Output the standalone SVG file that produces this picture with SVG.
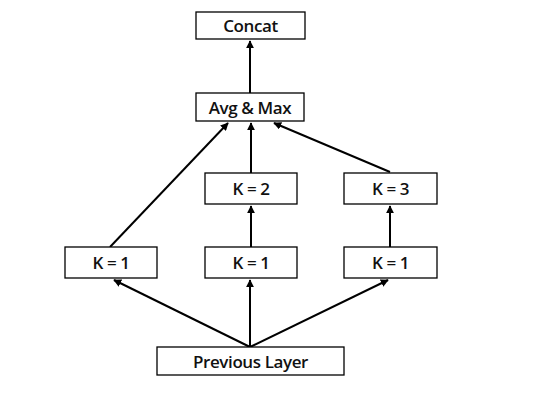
<svg xmlns="http://www.w3.org/2000/svg" width="544" height="402" viewBox="0 0 544 402">
<style>
.box{fill:#fff;stroke:#000;stroke-width:1.3}
.lbl{font-family:"Open Sans","Liberation Sans",Arial,sans-serif;font-size:17px;font-weight:600;fill:#111;text-anchor:middle;dominant-baseline:central;letter-spacing:-0.4px}
.edge{stroke:#000;stroke-width:2;fill:none;marker-end:url(#ah)}
</style>
<defs>
<marker id="ah" viewBox="0 0 10 10" refX="9" refY="5" markerWidth="4" markerHeight="4" orient="auto" markerUnits="strokeWidth">
<path d="M0,0 L10,5 L0,10 z" fill="#000"/>
</marker>
</defs>
<rect width="544" height="402" fill="#fff"/>
<g id="connectors">
<line class="edge" x1="250" y1="93" x2="250" y2="41"/>
<line class="edge" x1="110" y1="247" x2="228" y2="123"/>
<line class="edge" x1="251" y1="173" x2="251" y2="123"/>
<line class="edge" x1="390" y1="172" x2="274" y2="123"/>
<line class="edge" x1="390" y1="247" x2="390" y2="206"/>
<line class="edge" x1="251" y1="247" x2="251" y2="206"/>
<line class="edge" x1="250" y1="347" x2="114" y2="280"/>
<line class="edge" x1="250" y1="347" x2="250" y2="280"/>
<line class="edge" x1="250" y1="347" x2="388" y2="280"/>
</g>
<g id="concat"><rect class="box" x="196" y="12" width="109" height="27"/><text class="lbl" x="250.5" y="25.5">Concat</text></g>
<g id="avgmax"><rect class="box" x="196" y="93" width="108" height="28"/><text class="lbl" x="250" y="107">Avg &amp; Max</text></g>
<g id="k2"><rect class="box" x="205" y="173" width="92" height="31"/><text class="lbl" x="251" y="188.5">K = 2</text></g>
<g id="k3"><rect class="box" x="344" y="173" width="93" height="31"/><text class="lbl" x="390.5" y="188.5">K = 3</text></g>
<g id="k1a"><rect class="box" x="65" y="247" width="92" height="31"/><text class="lbl" x="111" y="262.5">K = 1</text></g>
<g id="k1b"><rect class="box" x="205" y="247" width="92" height="31"/><text class="lbl" x="251" y="262.5">K = 1</text></g>
<g id="k1c"><rect class="box" x="344" y="247" width="93" height="31"/><text class="lbl" x="390.5" y="262.5">K = 1</text></g>
<g id="prev"><rect class="box" x="157" y="347" width="187" height="28"/><text class="lbl" x="250.5" y="361">Previous Layer</text></g>
</svg>
